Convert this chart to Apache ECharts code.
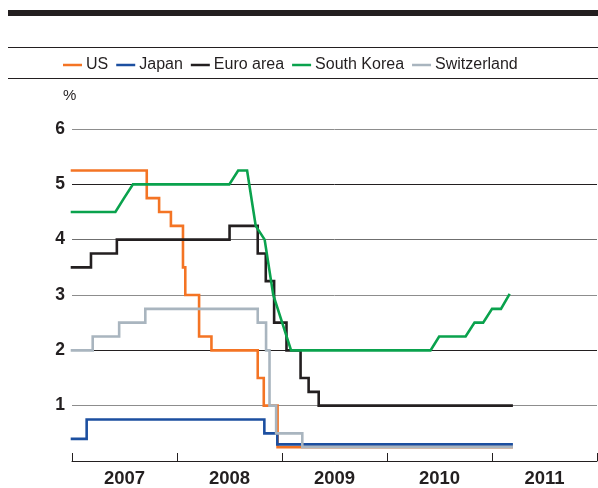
<!DOCTYPE html>
<html>
<head>
<meta charset="utf-8">
<title>Policy rates</title>
<script src="https://cdn.jsdelivr.net/npm/echarts@6/dist/echarts.min.js"></script>
<style>
  html, body { margin: 0; padding: 0; background: #fff; }
  #chart { width: 598px; height: 488px; }
</style>
</head>
<body>
<div id="chart"></div>
<script>
// year labels shown under the axis
var years = ['2007', '2008', '2009', '2010', '2011']
var yTicks = [0, 1, 2, 3, 4, 5, 6]

// policy rates, [date, %], value holds until the next date
var usRates = [
  ['2007-01-01', 5.25], ['2007-09-18', 4.75], ['2007-10-31', 4.5],
  ['2007-12-11', 4.25], ['2008-01-22', 3.5], ['2008-01-30', 3.0],
  ['2008-03-18', 2.25], ['2008-04-30', 2.0], ['2008-10-08', 1.5],
  ['2008-10-29', 1.0], ['2008-12-16', 0.25], ['2011-03-10', 0.25]
]
var japanRates = [
  ['2007-01-01', 0.4], ['2007-02-21', 0.75], ['2008-10-31', 0.5],
  ['2008-12-15', 0.3], ['2011-03-10', 0.3]
]
var euroRates = [
  ['2007-01-01', 3.5], ['2007-03-08', 3.75], ['2007-06-06', 4.0],
  ['2008-07-02', 4.25], ['2008-10-08', 3.75], ['2008-11-05', 3.25],
  ['2008-12-04', 2.5], ['2009-01-16', 2.0], ['2009-03-06', 1.5],
  ['2009-04-03', 1.25], ['2009-05-08', 1.0], ['2011-03-10', 1.0]
]
// monthly, joined by straight lines
var koreaRates = [
  ['2007-01-01', 4.5], ['2007-06-01', 4.5], ['2007-07-01', 4.75],
  ['2007-08-01', 5.0], ['2008-07-01', 5.0], ['2008-08-01', 5.25],
  ['2008-09-01', 5.25], ['2008-10-01', 4.25], ['2008-11-01', 4.0],
  ['2008-12-01', 3.0], ['2009-01-01', 2.5], ['2009-02-01', 2.0],
  ['2010-06-01', 2.0], ['2010-07-01', 2.25], ['2010-10-01', 2.25],
  ['2010-11-01', 2.5], ['2010-12-01', 2.5], ['2011-01-01', 2.75],
  ['2011-02-01', 2.75], ['2011-03-01', 3.0]
]
var swissRates = [
  ['2007-01-01', 2.0], ['2007-03-14', 2.25], ['2007-06-14', 2.5],
  ['2007-09-13', 2.75], ['2008-10-08', 2.5], ['2008-11-06', 2.0],
  ['2008-11-18', 1.0], ['2008-12-11', 0.5], ['2009-03-12', 0.25],
  ['2011-03-10', 0.25]
]

var ink = '#231f20'
var numFont = '"Liberation Sans", Arial, sans-serif'
var textFont = '"Liberation Sans", Arial, sans-serif'

var myChart = echarts.init(document.getElementById('chart'), null, { renderer: 'canvas' })

function rateLine (name, color, data, step) {
  return {
    name: name,
    type: 'line',
    step: step ? 'end' : false,
    symbol: 'none',
    xAxisIndex: 0,
    data: data,
    lineStyle: { color: color, width: 2.6, cap: 'square', join: 'miter' },
    itemStyle: { color: color },
    emphasis: { disabled: true }
  }
}

myChart.setOption({
  animation: false,
  color: ['#f47424', '#1c4fa0', ink, '#0aa24d', '#a9b5bf'],
  grid: { left: 72, right: 1, top: 129, bottom: 25 },
  legend: {
    left: 63,
    top: 57,
    width: 540,
    padding: 0,
    itemWidth: 19,
    itemHeight: 2.5,
    itemGap: 8,
    icon: 'rect',
    textStyle: { color: ink, fontSize: 16, fontFamily: textFont, padding: [0, 0, 0, -1] },
    data: ['US', 'Japan', 'Euro area', 'South Korea', 'Switzerland']
  },
  graphic: [
    { type: 'rect', shape: { x: 8, y: 10, width: 590, height: 6 }, style: { fill: ink } },
    { type: 'line', shape: { x1: 8, y1: 47.5, x2: 598, y2: 47.5 }, style: { stroke: ink, lineWidth: 1 } },
    { type: 'line', shape: { x1: 8, y1: 78.5, x2: 598, y2: 78.5 }, style: { stroke: ink, lineWidth: 1 } },
    { type: 'text', left: 63, top: 88, style: { text: '%', fill: ink, fontSize: 15, fontFamily: textFont } }
  ],
  xAxis: [
    {
      type: 'time',
      min: '2007-01-01',
      max: '2012-01-01',
      minInterval: 365 * 24 * 3600 * 1000,
      maxInterval: 366 * 24 * 3600 * 1000,
      axisLine: { show: true, lineStyle: { color: ink, width: 1 } },
      axisTick: { show: true, inside: true, length: 8, lineStyle: { color: ink, width: 1 } },
      axisLabel: { show: false },
      splitLine: { show: false }
    },
    {
      type: 'category',
      position: 'bottom',
      data: years,
      boundaryGap: true,
      axisLine: { show: false },
      axisTick: { show: false },
      axisLabel: { color: ink, fontSize: 18.5, fontWeight: 'bold', fontFamily: numFont, margin: 8 },
      splitLine: { show: false }
    }
  ],
  yAxis: {
    type: 'value',
    min: yTicks[0],
    max: yTicks[yTicks.length - 1],
    interval: 1,
    axisLine: { show: false },
    axisTick: { show: false },
    axisLabel: {
      color: ink,
      fontSize: 17.5,
      fontWeight: 'bold',
      fontFamily: numFont,
      margin: 7,
      formatter: function (v) { return v === 0 ? '' : String(v) }
    },
    splitLine: {
      lineStyle: {
        color: [ink, '#8d8d8d', ink, '#8d8d8d', '#6f6f6f', ink, '#8d8d8d'],
        width: 1
      }
    }
  },
  series: [
    rateLine('US', '#f47424', usRates, true),
    rateLine('Japan', '#1c4fa0', japanRates, true),
    rateLine('Euro area', ink, euroRates, true),
    rateLine('South Korea', '#0aa24d', koreaRates, false),
    rateLine('Switzerland', '#a9b5bf', swissRates, true)
  ]
})
</script>
</body>
</html>
